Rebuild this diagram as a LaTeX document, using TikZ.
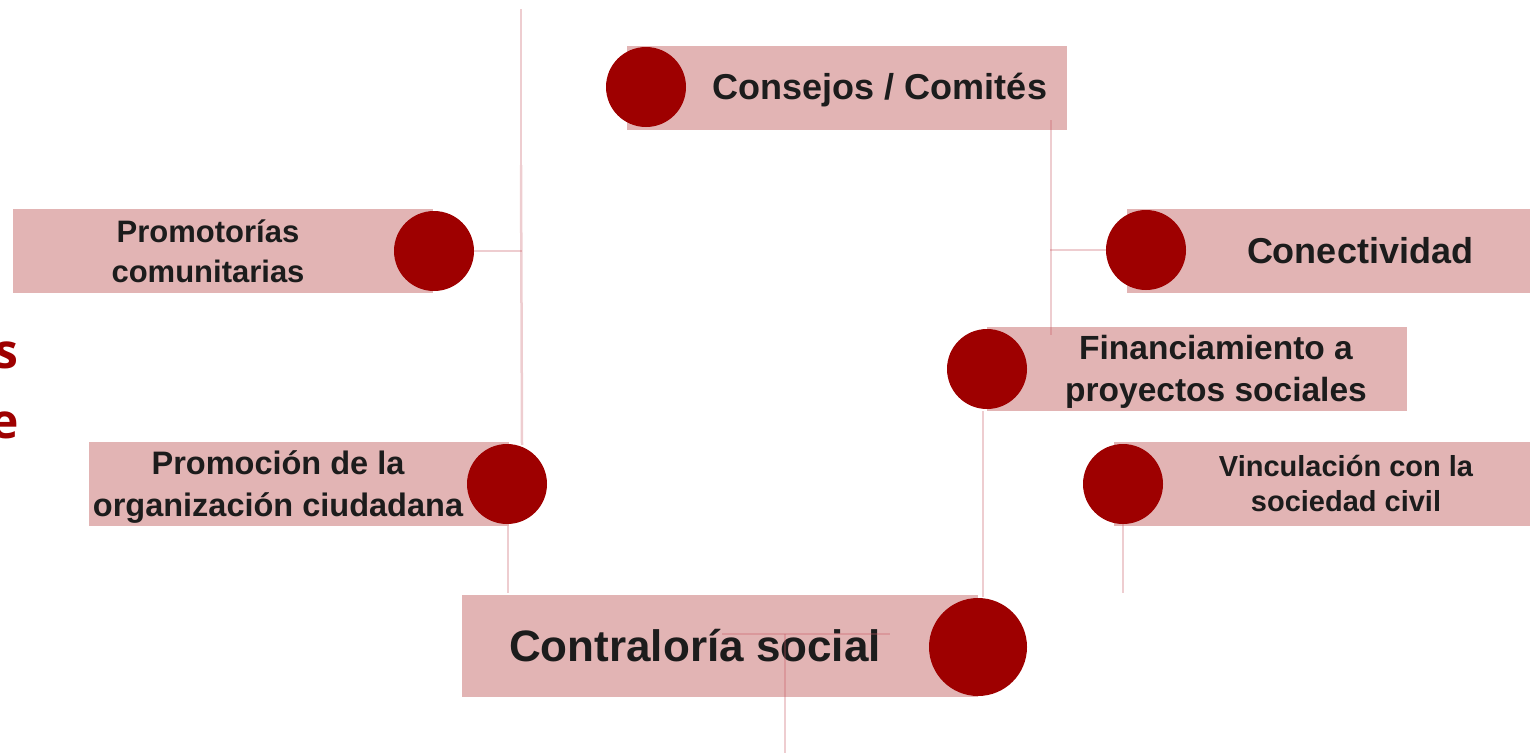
\documentclass[tikz,border=0pt]{standalone}
\usepackage{fontspec}
\setmainfont{Liberation Sans}
\newfontfamily\titlefont{Open Sans}
\definecolor{boxfill}{RGB}{226,180,180}
\definecolor{dotred}{RGB}{158,0,0}
\definecolor{txt}{RGB}{28,28,28}
\definecolor{linec}{RGB}{200,90,100}
\begin{document}
\begin{tikzpicture}[x=1pt,y=-1pt,
  box/.style={rectangle,fill=boxfill,inner sep=0pt},
  dot/.style={circle,fill=dotred,inner sep=0pt,minimum size=80pt},
  lbl/.style={text=txt,font=\bfseries,align=center,inner sep=0pt},
  conn/.style={draw=linec,opacity=0.3,line width=2pt}]
\useasboundingbox (0,0) rectangle (1530,753);
% boxes
\node[box,minimum width=440pt,minimum height=84pt] (r1) at (847,88) {};
\node[box,minimum width=420pt,minimum height=84pt] (r2) at (223,251) {};
\node[box,minimum width=403pt,minimum height=84pt] (r3) at (1328.5,251) {};
\node[box,minimum width=420pt,minimum height=84pt] (r4) at (1197,369) {};
\node[box,minimum width=420pt,minimum height=84pt] (r5) at (299,484) {};
\node[box,minimum width=416pt,minimum height=84pt] (r6) at (1322,484) {};
\node[box,minimum width=516pt,minimum height=102pt] (r7) at (720,646) {};
% dots
\node[dot] (c1) at (646,87) {};
\node[dot] (c2) at (434,251) {};
\node[dot] (c3) at (1146,250) {};
\node[dot] (c4) at (987,369) {};
\node[dot] (c5) at (507,484) {};
\node[dot] (c6) at (1123,484) {};
\node[dot,minimum size=98pt] (c7) at (978,647) {};
% labels
\node[lbl,font=\bfseries\fontsize{36}{42}\selectfont] (t1) at (880,90) {Consejos / Comités};
\node[lbl,font=\bfseries\fontsize{31}{40}\selectfont] (t2) at (208,251) {Promotorías\\comunitarias};
\node[lbl,font=\bfseries\fontsize{36}{42}\selectfont] (t3) at (1360,251) {Conectividad};
\node[lbl,font=\bfseries\fontsize{33.5}{42}\selectfont] (t4) at (1216,372) {Financiamiento a\\proyectos sociales};
\node[lbl,font=\bfseries\fontsize{32.5}{42}\selectfont] (t5) at (278,487) {Promoción de la\\organización ciudadana};
\node[lbl,font=\bfseries\fontsize{29}{35}\selectfont] (t6) at (1346,483) {Vinculación con la\\sociedad civil};
\node[lbl,font=\bfseries\fontsize{44}{50}\selectfont] (t7) at (695,646) {Contraloría social};
% partial title
\node[anchor=base east,inner sep=0pt,text=dotred,font=\titlefont\bfseries\fontsize{48}{56}\selectfont] (s1) at (19,368) {s};
\node[anchor=base east,inner sep=0pt,text=dotred,font=\titlefont\bfseries\fontsize{48}{56}\selectfont] (s2) at (19,438) {e};
% connector coordinates
\coordinate (jt) at (521,9);
\coordinate (jm) at (521,165);
\coordinate (jb) at (522,445);
\coordinate (j2) at (522,251);
\coordinate (k1) at (1051,120);
\coordinate (k2) at (1051,335);
\coordinate (k3) at (1050,250);
\coordinate (f1) at (983,411);
\coordinate (f2) at (983,597);
\coordinate (v2) at (1123,593);
\coordinate (p1) at (508,526);
\coordinate (p2) at (508,593);
\coordinate (q1) at (722,634);
\coordinate (q2) at (890,634);
\coordinate (q3) at (785,634);
\coordinate (q4) at (785,753);
% connectors
\draw[conn] (jt) -- (jm);
\draw[conn,line width=2.5pt] (jm) -- (jb);
\draw[conn] (c2.east) -- (j2);
\draw[conn] (k1) -- (k2);
\draw[conn] (k3) -- (c3.west);
\draw[conn] (f1) -- (f2);
\draw[conn] (c6.south) -- (v2);
\draw[conn] (p1) -- (p2);
\draw[conn] (q1) -- (q2);
\draw[conn] (q3) -- (q4);
\end{tikzpicture}
\end{document}
